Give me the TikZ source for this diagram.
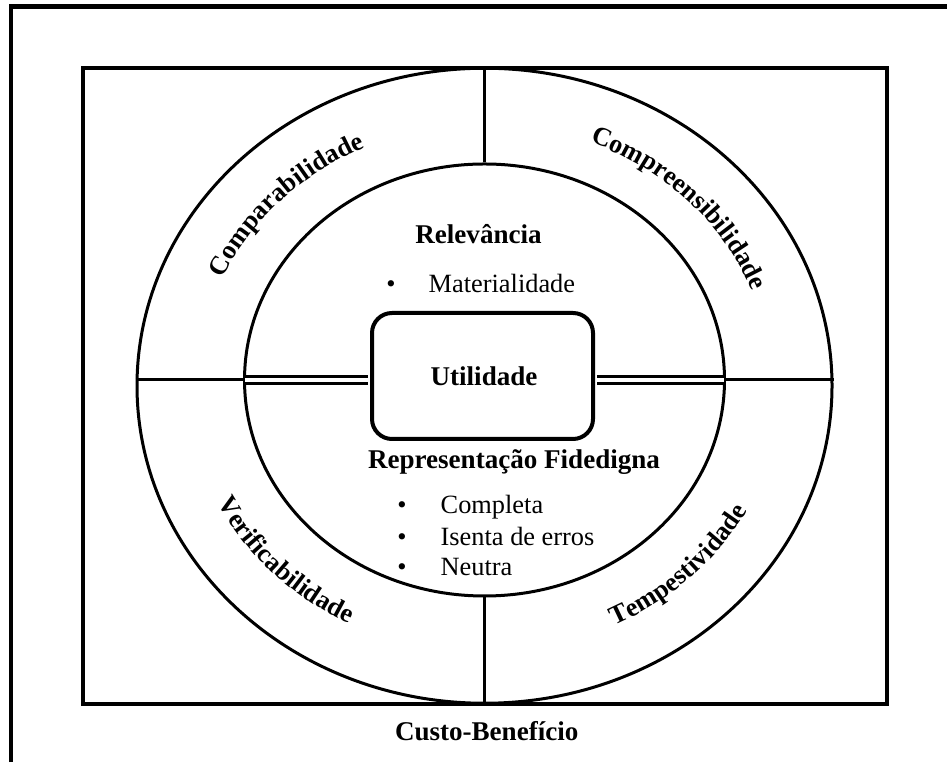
\documentclass[tikz,border=0pt]{standalone}
\usepackage{fontspec}
\setmainfont{Liberation Serif}
\usetikzlibrary{shapes.geometric,decorations.text,calc}
\newcommand{\lblfont}{\fontsize{7.7}{9}\selectfont\bfseries}
\newcommand{\arcfont}{\fontsize{7.5}{9}\selectfont\bfseries}
\newcommand{\itmfont}{\fontsize{7.5}{9}\selectfont}

\begin{document}
\begin{tikzpicture}[x=0.1mm,y=0.1mm,
  ring/.style={draw,ellipse,line width=0.3mm,inner sep=0pt},
  head/.style={font=\lblfont,anchor=base,inner sep=0pt},
  item/.style={font=\itmfont,anchor=base west,inner sep=0pt},
  dot/.style={font=\itmfont,anchor=base,inner sep=0pt},
  bar/.style={line width=0.3mm},
  twin/.style={double,line width=0.25mm,double distance=0.45mm,shorten <=0.18mm,shorten >=0.18mm},
  arclabel/.style={decorate,decoration={text along path,text align=center,text={|\arcfont|#1}}}]
\useasboundingbox (0,0) rectangle (947,762);
\draw[line width=0.45mm] (11,0) -- (11,755.5) -- (947,755.5);
\draw[line width=0.4mm] (82.5,58.5) rectangle (887,693.5);

\node[ring,minimum width=69.5mm,minimum height=63.5mm] (outer) at (484.5,376.25) {};
\node[ring,minimum width=48mm,minimum height=43.2mm] (inner) at (484.5,382) {};
\node[draw,rounded corners=2mm,line width=0.4mm,minimum width=22.1mm,minimum height=12.6mm] (util) at (482.5,386) {};
\coordinate (mid) at ($(outer.center)!0.5!(inner.center)$);

\draw[bar] (outer.north) -- (inner.north);
\draw[bar] (outer.south) -- (inner.south);
\draw[bar] (inner.west -| outer.west) -- (inner.west);
\draw[bar] (inner.east) -- (inner.east -| outer.east);
\draw[twin] (inner.west) -- (inner.west -| util.west);
\draw[twin] (inner.east -| util.east) -- (inner.east);

\node[head] (utiltxt) at (484,376) {Utilidade};
\node[head] (relev) at (478.5,518) {Relevância};
\node[dot] (b1) at (391,469) {•};
\node[item] (mater) at (428,469) {Materialidade};
\node[head] (repfid) at (514,293) {Representação Fidedigna};
\node[dot] (b2) at (402,248) {•};
\node[item] (compl) at (440,248) {Completa};
\node[dot] (b3) at (402,216) {•};
\node[item] (isenta) at (440,216) {Isenta de erros};
\node[dot] (b4) at (402,186) {•};
\node[item] (neutra) at (440,186) {Neutra};
\node[head] (custo) at (486.7,22) {Custo-Benefício};

\path[arclabel=Comparabilidade] ($(mid)+(181.5:286 and 259)$) arc[start angle=181.5,end angle=91.5,x radius=286,y radius=259];
\path[arclabel=Compreensibilidade] ($(mid)+(88.5:286 and 259)$) arc[start angle=88.5,end angle=-1.5,x radius=286,y radius=259];
\path[arclabel=Verificabilidade] ($(mid)+(178.5:298 and 270)$) arc[start angle=178.5,end angle=268.5,x radius=298,y radius=270];
\path[arclabel=Tempestividade] ($(mid)+(270:298 and 270)$) arc[start angle=270,end angle=360,x radius=298,y radius=270];
\end{tikzpicture}
\end{document}
